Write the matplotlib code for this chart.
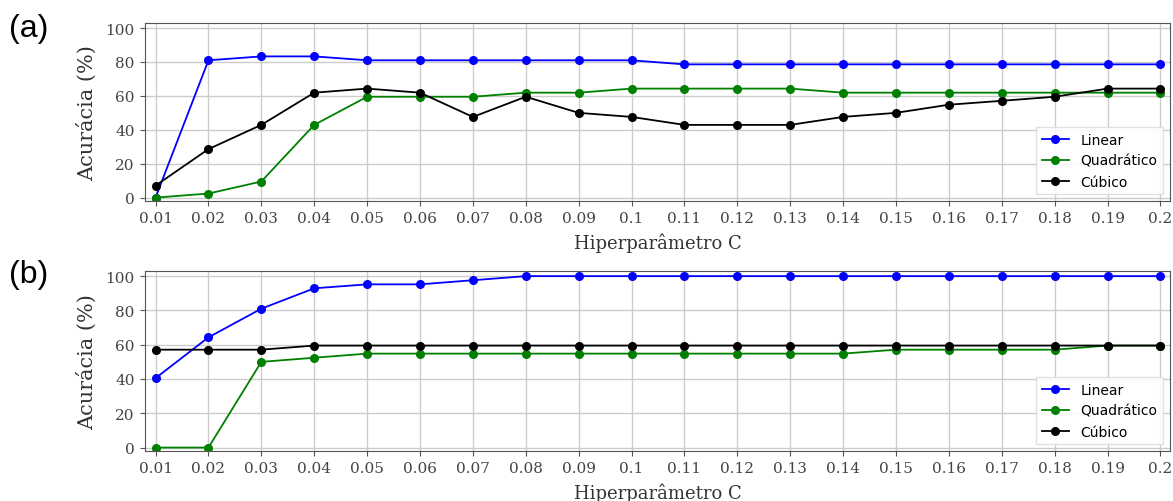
import numpy as np
import matplotlib
matplotlib.use("Agg")
import matplotlib.pyplot as plt

# valores
C = [0.01, 0.02, 0.03, 0.04, 0.05, 0.06, 0.07, 0.08, 0.09, 0.1,
     0.11, 0.12, 0.13, 0.14, 0.15, 0.16, 0.17, 0.18, 0.19, 0.2]
C_labels = ["0.01", "0.02", "0.03", "0.04", "0.05", "0.06", "0.07", "0.08", "0.09", "0.1",
            "0.11", "0.12", "0.13", "0.14", "0.15", "0.16", "0.17", "0.18", "0.19", "0.2"]

# (a)
lin_a = [0.0, 81.0, 83.3, 83.3, 81.0, 81.0, 81.0, 81.0, 81.0, 81.0,
         78.6, 78.6, 78.6, 78.6, 78.6, 78.6, 78.6, 78.6, 78.6, 78.6]
quad_a = [0.0, 2.4, 9.5, 42.9, 59.5, 59.5, 59.5, 61.9, 61.9, 64.3,
          64.3, 64.3, 64.3, 61.9, 61.9, 61.9, 61.9, 61.9, 61.9, 61.9]
cub_a = [7.1, 28.6, 42.9, 61.9, 64.3, 61.9, 47.6, 59.5, 50.0, 47.6,
         42.9, 42.9, 42.9, 47.6, 50.0, 54.8, 57.1, 59.5, 64.3, 64.3]

# (b)
lin_b = [40.5, 64.3, 81.0, 92.9, 95.2, 95.2, 97.6, 100, 100, 100,
         100, 100, 100, 100, 100, 100, 100, 100, 100, 100]
quad_b = [0.0, 0.0, 50.0, 52.4, 54.8, 54.8, 54.8, 54.8, 54.8, 54.8,
          54.8, 54.8, 54.8, 54.8, 57.1, 57.1, 57.1, 57.1, 59.5, 59.5]
cub_b = [57.1, 57.1, 57.1, 59.5, 59.5, 59.5, 59.5, 59.5, 59.5, 59.5,
         59.5, 59.5, 59.5, 59.5, 59.5, 59.5, 59.5, 59.5, 59.5, 59.5]

serif = "DejaVu Serif"

fig = plt.figure(figsize=(11.73, 5.02), dpi=100)
ax1 = fig.add_axes([0.1236, 0.5976, 0.8738, 0.3546])
ax2 = fig.add_axes([0.1236, 0.0996, 0.8738, 0.3586])

paineis = [(ax1, lin_a, quad_a, cub_a, "(a)", 0.972),
           (ax2, lin_b, quad_b, cub_b, "(b)", 0.482)]

for ax, lin, quad, cub, letra, ytxt in paineis:
    ax.plot(C, lin, "o-", color="blue", lw=1.3, ms=5.5, label="Linear")
    ax.plot(C, quad, "o-", color="green", lw=1.3, ms=5.5, label="Quadrático")
    ax.plot(C, cub, "o-", color="black", lw=1.3, ms=5.5, label="Cúbico")
    ax.set_xlim(0.008, 0.2018)
    ax.set_ylim(-2, 103)
    ax.set_xticks(C)
    ax.set_xticklabels(C_labels)
    ax.set_yticks([0, 20, 40, 60, 80, 100])
    ax.grid(True, color="#cccccc", lw=1)
    ax.set_axisbelow(True)
    for s in ax.spines.values():
        s.set_color("#555555")
    ax.tick_params(colors="#555555", labelcolor="#444444", labelsize=11, pad=4)
    for lab in ax.get_xticklabels() + ax.get_yticklabels():
        lab.set_family(serif)
    ax.set_xlabel("Hiperparâmetro C", family=serif, fontsize=13, color="#333333", labelpad=5)
    ax.set_ylabel("Acurácia (%)", family=serif, fontsize=15, color="#333333", labelpad=6)
    ax.legend(loc="lower right", prop={"family": "DejaVu Sans", "size": 10},
              framealpha=0.9, edgecolor="#dddddd", fancybox=False)
    fig.text(0.008, ytxt, letra, fontsize=23, family="Liberation Sans", va="top")

fig.savefig("out.png", dpi=100)
